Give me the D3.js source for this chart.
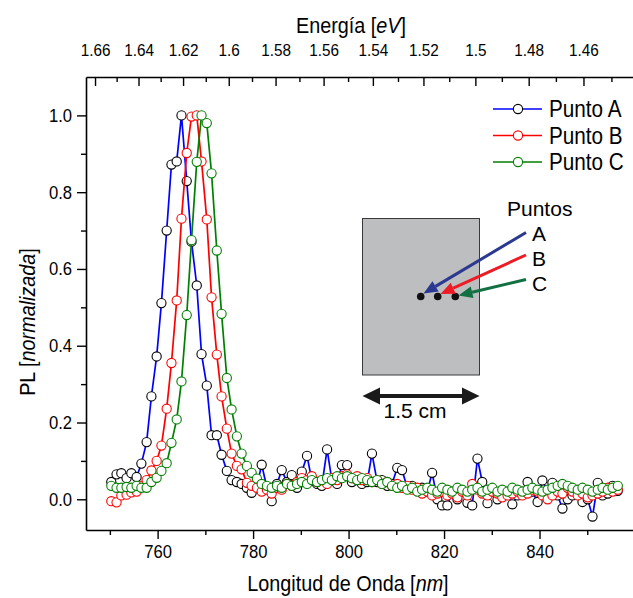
<!DOCTYPE html>
<html>
<head>
<meta charset="utf-8">
<script src="https://cdn.jsdelivr.net/npm/d3@7/dist/d3.min.js"></script>
<style>
  body { margin: 0; background: #fff; }
  svg text { font-family: "Liberation Sans", Arial, sans-serif; fill: #000; }
</style>
</head>
<body>
<svg id="chart" width="633" height="598"></svg>
<script>
// wavelength grid [nm], shared by the three spectra
var wavelength = [
  750.3, 751.4, 752.4, 753.5, 754.5, 755.6, 756.6, 757.7, 758.7, 759.8,
  760.8, 761.9, 762.9, 764.0, 765.0, 766.1, 767.1, 768.2, 769.2, 770.3,
  771.3, 772.4, 773.4, 774.5, 775.5, 776.6, 777.6, 778.7, 779.7, 780.8,
  781.8, 782.9, 783.9, 785.0, 786.0, 787.1, 788.1, 789.2, 790.2, 791.3,
  792.3, 793.4, 794.4, 795.5, 796.5, 797.6, 798.6, 799.7, 800.7, 801.8,
  802.8, 803.9, 804.9, 806.0, 807.0, 808.1, 809.1, 810.2, 811.2, 812.3,
  813.3, 814.4, 815.4, 816.5, 817.5, 818.6, 819.6, 820.7, 821.7, 822.8,
  823.8, 824.9, 825.9, 827.0, 828.0, 829.1, 830.1, 831.2, 832.2, 833.3,
  834.3, 835.4, 836.4, 837.5, 838.5, 839.6, 840.6, 841.7, 842.7, 843.8,
  844.8, 845.9, 846.9, 848.0, 849.0, 850.1, 851.1, 852.2, 853.2, 854.3,
  855.3, 856.4
];

var puntoA = [
  0.045, 0.065, 0.068, 0.055, 0.068, 0.058, 0.093, 0.149, 0.268, 0.372,
  0.511, 0.700, 0.872, 0.880, 1.000, 0.829, 0.671, 0.557, 0.378, 0.296,
  0.167, 0.167, 0.116, 0.074, 0.050, 0.045, 0.040, 0.030, 0.017, 0.035,
  0.090, 0.030, -0.005, 0.040, 0.076, 0.045, 0.063, 0.030, 0.072, 0.113,
  0.050, 0.040, 0.035, 0.130, 0.050, 0.040, 0.089, 0.089, 0.045, 0.050,
  0.040, 0.045, 0.119, 0.045, 0.050, 0.035, 0.040, 0.082, 0.076, 0.030,
  0.035, 0.025, 0.030, 0.020, 0.069, 0.000, -0.016, -0.016, 0.020, 0.000,
  0.020, -0.009, -0.016, 0.106, 0.045, -0.010, 0.020, 0.000, 0.010, 0.020,
  -0.013, 0.010, 0.020, 0.045, 0.020, -0.007, 0.049, 0.020, 0.043, 0.010,
  -0.024, 0.000, 0.010, 0.020, -0.007, 0.000, -0.045, 0.043, 0.010, 0.015,
  0.035, 0.022
];

var puntoB = [
  -0.005, -0.008, 0.010, 0.012, 0.018, 0.020, 0.035, 0.050, 0.075, 0.100,
  0.140, 0.236, 0.355, 0.518, 0.731, 0.902, 0.997, 1.000, 0.880, 0.729,
  0.526, 0.377, 0.268, 0.184, 0.119, 0.087, 0.078, 0.043, 0.035, 0.030,
  0.020, 0.025, 0.015, 0.030, 0.025, 0.040, 0.035, 0.045, 0.055, 0.050,
  0.060, 0.045, 0.050, 0.040, 0.055, 0.050, 0.060, 0.065, 0.055, 0.060,
  0.050, 0.055, 0.045, 0.050, 0.040, 0.045, 0.035, 0.040, 0.030, 0.035,
  0.025, 0.030, 0.015, 0.020, 0.010, 0.015, 0.020, 0.010, 0.015, 0.005,
  0.020, 0.010, 0.040, 0.025, 0.015, 0.010, 0.020, 0.015, 0.005, 0.010,
  0.015, 0.020, 0.010, 0.015, 0.025, 0.020, 0.010, 0.000, 0.010, 0.020,
  0.015, 0.030, 0.020, 0.010, 0.015, 0.005, 0.010, 0.015, 0.020, 0.030,
  0.020, 0.025
];

var puntoC = [
  0.035, 0.030, 0.030, 0.032, 0.030, 0.035, 0.030, 0.030, 0.045, 0.056,
  0.074, 0.094, 0.147, 0.208, 0.307, 0.480, 0.675, 0.879, 1.000, 0.980,
  0.849, 0.648, 0.483, 0.316, 0.234, 0.164, 0.119, 0.087, 0.069, 0.054,
  0.040, 0.035, 0.030, 0.035, 0.030, 0.040, 0.035, 0.040, 0.045, 0.040,
  0.050, 0.045, 0.050, 0.055, 0.050, 0.060, 0.055, 0.060, 0.055, 0.050,
  0.055, 0.050, 0.045, 0.050, 0.040, 0.045, 0.035, 0.030, 0.035, 0.025,
  0.030, 0.020, 0.025, 0.030, 0.025, 0.020, 0.030, 0.025, 0.020, 0.030,
  0.025, 0.020, 0.025, 0.030, 0.020, 0.025, 0.030, 0.020, 0.025, 0.020,
  0.030, 0.025, 0.020, 0.025, 0.030, 0.025, 0.020, 0.025, 0.030, 0.035,
  0.040, 0.035, 0.030, 0.025, 0.030, 0.025, 0.020, 0.025, 0.030, 0.025,
  0.030, 0.035
];

var seriesNames = ["Punto A", "Punto B", "Punto C"];
var xTicksMajor = [760, 780, 800, 820, 840];
var xTicksMinor = [750, 770, 790, 810, 830, 850];
var yTicksMajor = [0, 0.2, 0.4, 0.6, 0.8, 1.0];
var yTicksMinor = [0.1, 0.3, 0.5, 0.7, 0.9];
var energyLabels = ["1.66", "1.64", "1.62", "1.6", "1.58", "1.56", "1.54", "1.52", "1.5", "1.48", "1.46"];
var energyMinor = [1.65, 1.63, 1.61, 1.59, 1.57, 1.55, 1.53, 1.51, 1.49, 1.47, 1.45];

(function () {
  var svg = d3.select("#chart");
  var left = 86, right = 635, top = 77, bottom = 530;
  var hc = 1239.84; // eV*nm
  var sq = 0.9;     // text in the original is a bit narrow

  var x = d3.scaleLinear().domain([745, 860]).range([left, right]);
  var y = d3.scaleLinear().domain([-0.08, 1.1]).range([bottom, top]);

  var lineColor = ["#0000ff", "#ff0000", "#008000"];
  var markColor = ["#000000", "#ff0000", "#008000"];
  var values = [puntoA, puntoB, puntoC];

  // squeeze text horizontally, keeping its anchor point
  function squeeze(sel) {
    sel.each(function () {
      var t = d3.select(this);
      var xx = +t.attr("x") || 0;
      var tr = t.attr("transform") || "";
      t.attr("x", xx / sq).attr("transform", (tr ? tr + " " : "") + "scale(" + sq + ",1)");
    });
  }

  function styleAxis(g, fs) {
    g.selectAll("path.domain").attr("stroke", "#000").attr("stroke-width", 1.6);
    g.selectAll(".tick line").attr("stroke", "#000").attr("stroke-width", 1.4);
    g.selectAll(".tick text").style("font-size", fs + "px").attr("fill", "#000")
      .style("font-family", '"Liberation Sans", Arial, sans-serif');
    squeeze(g.selectAll(".tick text"));
  }

  var gx = svg.append("g").attr("transform", "translate(0," + bottom + ")")
    .call(d3.axisBottom(x).tickValues(xTicksMajor).tickSize(9).tickSizeOuter(0).tickPadding(6));
  styleAxis(gx, 18.5);
  var gxm = svg.append("g").attr("transform", "translate(0," + bottom + ")")
    .call(d3.axisBottom(x).tickValues(xTicksMinor).tickSize(5).tickFormat(""));
  gxm.select("path.domain").remove();
  styleAxis(gxm, 18.5);

  var gy = svg.append("g").attr("transform", "translate(" + left + ",0)")
    .call(d3.axisLeft(y).tickValues(yTicksMajor).tickSize(9).tickSizeOuter(0).tickPadding(5)
      .tickFormat(d3.format(".1f")));
  styleAxis(gy, 18.5);
  var gym = svg.append("g").attr("transform", "translate(" + left + ",0)")
    .call(d3.axisLeft(y).tickValues(yTicksMinor).tickSize(5).tickFormat(""));
  gym.select("path.domain").remove();
  styleAxis(gym, 18.5);

  // top energy axis (ticks pointing inside)
  var energyMajor = energyLabels.map(function (s) { return hc / (+s); });
  var gt = svg.append("g").attr("transform", "translate(0," + top + ")")
    .call(d3.axisTop(x).tickValues(energyMajor).tickSize(-9).tickSizeOuter(0).tickPadding(21)
      .tickFormat(function (d, i) { return energyLabels[i]; }));
  styleAxis(gt, 17);
  var gtm = svg.append("g").attr("transform", "translate(0," + top + ")")
    .call(d3.axisTop(x).tickValues(energyMinor.map(function (e) { return hc / e; }))
      .tickSize(-5).tickFormat(""));
  gtm.select("path.domain").remove();
  styleAxis(gtm, 17);

  // axis titles
  var bt = svg.append("text").attr("x", 348).attr("y", 591)
    .attr("text-anchor", "middle").style("font-size", "22px");
  bt.append("tspan").text("Longitud de Onda [");
  bt.append("tspan").style("font-style", "italic").text("nm");
  bt.append("tspan").text("]");
  squeeze(bt);

  var tt = svg.append("text").attr("x", 351).attr("y", 33)
    .attr("text-anchor", "middle").style("font-size", "22px");
  tt.append("tspan").text("Energía [");
  tt.append("tspan").style("font-style", "italic").text("eV");
  tt.append("tspan").text("]");
  squeeze(tt);

  var lt = svg.append("text").attr("transform", "translate(35,322) rotate(-90)")
    .attr("text-anchor", "middle").style("font-size", "22px");
  lt.append("tspan").text("PL [");
  lt.append("tspan").style("font-style", "italic").text("normalizada");
  lt.append("tspan").text("]");
  squeeze(lt);

  // spectra
  var line = d3.line()
    .x(function (d) { return x(d[0]); })
    .y(function (d) { return y(d[1]); });

  values.forEach(function (vals, s) {
    var pts = wavelength.map(function (w, i) { return [w, vals[i]]; });
    var g = svg.append("g").attr("class", "series");
    g.append("path").datum(pts)
      .attr("d", line)
      .attr("fill", "none")
      .attr("stroke", lineColor[s])
      .attr("stroke-width", 1.7);
    g.selectAll("circle").data(pts).enter().append("circle")
      .attr("cx", function (d) { return x(d[0]); })
      .attr("cy", function (d) { return y(d[1]); })
      .attr("r", 4.6)
      .attr("fill", "#fff")
      .attr("stroke", markColor[s])
      .attr("stroke-width", 1.1);
  });

  // legend
  var leg = svg.append("g");
  seriesNames.forEach(function (name, s) {
    var ly = 109 + s * 26.5;
    leg.append("line").attr("x1", 493).attr("x2", 542).attr("y1", ly).attr("y2", ly)
      .attr("stroke", lineColor[s]).attr("stroke-width", 1.7);
    leg.append("circle").attr("cx", 518).attr("cy", ly).attr("r", 4.6)
      .attr("fill", "#fff").attr("stroke", markColor[s]).attr("stroke-width", 1.1);
    var t = leg.append("text").attr("x", 549).attr("y", ly + 8.5).style("font-size", "23px").text(name);
    squeeze(t);
  });

  // inset: sample sketch
  var ins = svg.append("g");
  ins.append("rect").attr("x", 362.5).attr("y", 218.5).attr("width", 117).attr("height", 156.5)
    .attr("fill", "#bcbec0").attr("stroke", "#3a3a3a").attr("stroke-width", 1);

  function arrow(x1, y1, x2, y2, color, w, hl, hw) {
    var a = Math.atan2(y2 - y1, x2 - x1);
    var bx = x2 - hl * Math.cos(a), by = y2 - hl * Math.sin(a);
    ins.append("line").attr("x1", x1).attr("y1", y1).attr("x2", bx).attr("y2", by)
      .attr("stroke", color).attr("stroke-width", w);
    var px = -Math.sin(a) * hw / 2, py = Math.cos(a) * hw / 2;
    ins.append("path")
      .attr("d", "M" + x2 + "," + y2 + "L" + (bx + px) + "," + (by + py) + "L" + (bx - px) + "," + (by - py) + "Z")
      .attr("fill", color);
  }

  [[420.7, 296.5], [437.7, 296.5], [455.3, 296.5]].forEach(function (p) {
    ins.append("circle").attr("cx", p[0]).attr("cy", p[1]).attr("r", 3.8).attr("fill", "#111");
  });

  arrow(526, 232.5, 423.5, 293.5, "#2b3990", 3, 14, 12);
  arrow(526, 255, 440.5, 294, "#ed1c24", 3, 14, 12);
  arrow(526, 279.5, 458.5, 295.5, "#127043", 3, 14, 12);

  ins.append("text").attr("x", 507).attr("y", 215.5).style("font-size", "21px").text("Puntos");
  ins.append("text").attr("x", 532).attr("y", 240.5).style("font-size", "21px").text("A");
  ins.append("text").attr("x", 532).attr("y", 265.5).style("font-size", "21px").text("B");
  ins.append("text").attr("x", 532).attr("y", 290.5).style("font-size", "21px").text("C");

  // 1.5 cm scale arrow
  ins.append("line").attr("x1", 375).attr("x2", 467).attr("y1", 396).attr("y2", 396)
    .attr("stroke", "#1a1a1a").attr("stroke-width", 4);
  ins.append("path").attr("d", "M362.5,396L380,387.5L380,404.5Z").attr("fill", "#1a1a1a");
  ins.append("path").attr("d", "M479.5,396L462,387.5L462,404.5Z").attr("fill", "#1a1a1a");
  ins.append("text").attr("x", 415).attr("y", 417.5).attr("text-anchor", "middle")
    .style("font-size", "21px").text("1.5 cm");
})();
</script>
</body>
</html>
